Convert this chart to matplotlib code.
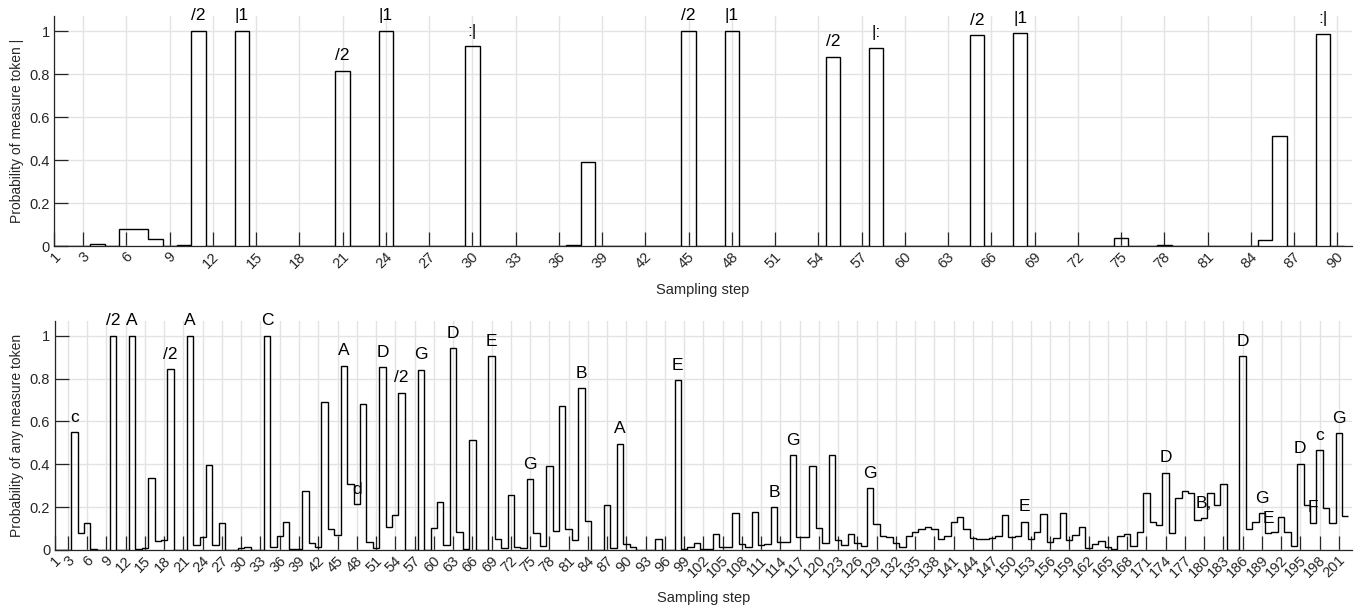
import numpy as np
import matplotlib
matplotlib.use("Agg")
import matplotlib.pyplot as plt
import matplotlib.transforms as mtransforms

plt.rcParams["font.family"] = ["Liberation Sans", "DejaVu Sans"]

# probability of the measure token "|" at each sampling step (steps 1..90)
top_probs = [
    0, 0, 0, 0.011, 0, 0.081, 0.081, 0.031, 0.002, 0.005,
    1.0, 0, 0, 1.0, 0, 0, 0, 0, 0, 0,
    0.815, 0, 0, 1.0, 0, 0, 0, 0, 0, 0.93,
    0, 0, 0, 0, 0, 0, 0.006, 0.389, 0, 0,
    0, 0, 0, 0, 1.0, 0, 0, 1.0, 0, 0,
    0, 0, 0, 0, 0.88, 0, 0, 0.921, 0, 0,
    0, 0, 0, 0, 0.98, 0, 0, 0.99, 0, 0,
    0, 0, 0, 0, 0.036, 0, 0, 0.004, 0, 0,
    0, 0, 0, 0, 0.03, 0.513, 0, 0, 0.986, 0,
]
top_label_steps = [11, 14, 21, 24, 30, 45, 48, 55, 58, 65, 68, 89]
top_label_text = ["/2", "|1", "/2", "|1", ":|", "/2", "|1", "/2", "|:", "/2", "|1", ":|"]

# probability of any measure token at each sampling step (steps 1..202)
bottom_probs = [
    0, 0, 0, 0.55, 0.078, 0.128, 0.004, 0.002, 0, 1.0,
    0, 0, 1.0, 0.005, 0.01, 0.338, 0.04, 0.045, 0.844, 0,
    0, 1.0, 0.023, 0.06, 0.397, 0.025, 0.126, 0, 0, 0.008,
    0.012, 0.002, 0, 1.0, 0.016, 0.065, 0.13, 0.005, 0.005, 0.274,
    0.033, 0.013, 0.69, 0.1, 0.068, 0.86, 0.31, 0.214, 0.68, 0.036,
    0.009, 0.852, 0.109, 0.165, 0.734, 0, 0, 0.841, 0, 0.104,
    0.224, 0.023, 0.941, 0.083, 0.004, 0.512, 0, 0, 0.903, 0.05,
    0.01, 0.255, 0.014, 0.009, 0.329, 0.079, 0.02, 0.394, 0.09, 0.674,
    0.1, 0.047, 0.754, 0.134, 0, 0, 0.212, 0.01, 0.495, 0.026,
    0.012, 0, 0, 0.002, 0.053, 0, 0, 0.793, 0.005, 0.012,
    0.031, 0.005, 0.005, 0.073, 0.016, 0.014, 0.171, 0.028, 0.014, 0.176,
    0.023, 0.028, 0.2, 0.036, 0.039, 0.441, 0.062, 0.061, 0.391, 0.101,
    0.033, 0.441, 0.045, 0.023, 0.075, 0.031, 0.02, 0.288, 0.12, 0.065,
    0.059, 0.034, 0.012, 0.064, 0.084, 0.097, 0.109, 0.097, 0.05, 0.064,
    0.131, 0.156, 0.1, 0.055, 0.051, 0.05, 0.055, 0.067, 0.164, 0.059,
    0.065, 0.131, 0.051, 0.086, 0.17, 0.036, 0.055, 0.171, 0.047, 0.069,
    0.106, 0.009, 0.028, 0.044, 0.014, 0.003, 0.065, 0.075, 0.019, 0.086,
    0.268, 0.131, 0.115, 0.361, 0.079, 0.243, 0.273, 0.265, 0.14, 0.148,
    0.268, 0.21, 0.31, 0, 0, 0.905, 0.1, 0.129, 0.171, 0.078,
    0.086, 0.152, 0.086, 0.018, 0.402, 0.208, 0.126, 0.465, 0.197, 0.126,
    0.545, 0.159,
]
bottom_label_steps = [4, 10, 13, 19, 22, 34, 46, 48, 52, 55, 58, 63, 69, 75, 83, 89,
                      98, 113, 116, 128, 152, 174, 180, 186, 189, 190, 195, 197, 198, 201]
bottom_label_text = ["c", "/2", "A", "/2", "A", "C", "A", "d", "D", "/2", "G", "D", "E", "G", "B", "A",
                     "E", "B", "G", "G", "E", "D", "B,", "D", "G", "E", "D", "F", "c", "G"]

AX_COLOR = "#262626"
GRID_COLOR = "#e3e3e3"


def draw_panel(fig, ax, probs, label_steps, label_text, ylabel):
    probs = np.array(probs)
    n = len(probs)
    edges = np.arange(n + 1) + 0.5
    ax.stairs(probs, edges, baseline=None, color="black", linewidth=1.0, zorder=3)

    for step, txt in zip(label_steps, label_text):
        ax.text(step, probs[step - 1] + 0.07, txt, ha="center", va="center",
                fontsize=12.5, color="black", zorder=4)

    ax.set_xlim(1, n + 1)
    ax.set_ylim(0, 1.07)
    xt = [1] + list(range(3, n + 1, 3))
    ax.set_xticks(xt)
    ax.set_xticklabels([str(t) for t in xt])
    ax.set_yticks([0, 0.2, 0.4, 0.6, 0.8, 1.0])
    ax.set_yticklabels(["0", "0.2", "0.4", "0.6", "0.8", "1"])
    ax.grid(True, color=GRID_COLOR, linewidth=1.0, zorder=0)
    ax.set_axisbelow(True)

    for side in ["top", "right"]:
        ax.spines[side].set_visible(False)
    for side in ["left", "bottom"]:
        ax.spines[side].set_color(AX_COLOR)
        ax.spines[side].set_linewidth(0.9)

    ax.tick_params(direction="in", length=10, width=0.9, colors=AX_COLOR,
                   labelsize=10.5)
    ax.tick_params(axis="x", pad=6)
    shift = mtransforms.ScaledTranslation(4 / 100, 0, fig.dpi_scale_trans)
    for lbl in ax.get_xticklabels():
        lbl.set_rotation(45)
        lbl.set_ha("right")
        lbl.set_va("center")
        lbl.set_rotation_mode("anchor")
        lbl.set_transform(lbl.get_transform() + shift)

    ax.set_xlabel("Sampling step", fontsize=10.5, color=AX_COLOR)
    ax.set_ylabel(ylabel, fontsize=10, color=AX_COLOR)


def main():
    fig = plt.figure(figsize=(13.6, 6.1), dpi=100)

    ax1 = fig.add_axes([0.040, 0.5967, 0.9539, 0.3771])
    draw_panel(fig, ax1, top_probs, top_label_steps, top_label_text,
               "Probability of measure token |")
    ax1.xaxis.set_label_coords(0.5, -0.19)
    ax1.yaxis.set_label_coords(-0.029, 0.5)

    ax2 = fig.add_axes([0.0405, 0.0984, 0.9534, 0.3759])
    draw_panel(fig, ax2, bottom_probs, bottom_label_steps, bottom_label_text,
               "Probability of any measure token")
    ax2.xaxis.set_label_coords(0.5, -0.21)
    ax2.yaxis.set_label_coords(-0.029, 0.5)

    for ax in (ax1, ax2):
        ax.xaxis.label.set_va("center")
        ax.yaxis.label.set_va("center")

    fig.savefig("out.png", dpi=100)


if __name__ == "__main__":
    main()
